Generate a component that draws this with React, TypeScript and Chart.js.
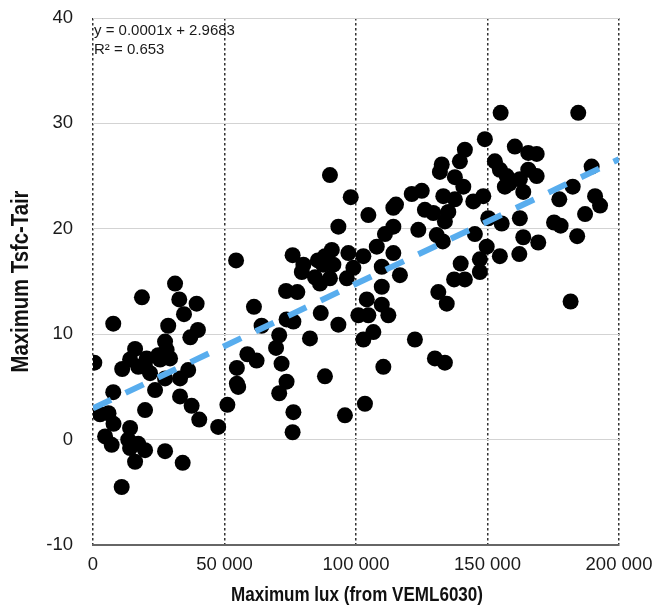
import { useEffect, useRef } from "react";
import { Chart, registerables } from "chart.js";

Chart.register(...registerables);

// Scatter data: maximum lux (x) and maximum Tsfc-Tair (y)
const luxValues = [
  500, 2700, 5900, 7700, 7700, 7800, 4600, 7100, 10900, 11100,
  14100, 16000, 13400, 14100, 14100, 16000, 17200, 18600, 19800, 20400,
  19800, 19800, 21700, 23600, 24800, 25500, 27400, 28000, 28600, 29300,
  27400, 27400, 31200, 32800, 33100, 33100, 34100, 34600, 36200, 37000,
  37500, 39400, 39900, 40400, 47600, 51100, 54400, 54700, 54700, 55200,
  58700, 62200, 61200, 64100, 17200,
  70800, 69600, 71700, 73600, 70800, 76200, 75900, 73400, 77700, 75900,
  80000, 79400, 73600, 76200, 82500, 86600, 88200, 90100, 93300, 98000,
  104700, 90800, 88200, 91400, 87500, 90100, 86300, 97100, 102800, 99000,
  96500, 93300, 100900, 104700, 104100, 109800, 112300, 106600, 102800, 110400,
  103400, 95800, 107900, 111000, 114200, 114200, 109800, 116700, 109800, 115200,
  114200, 121200, 125000, 126200, 129400, 123700, 130700, 122400, 130000, 133800,
  131300, 85500, 84400,
  155000, 149000, 160400, 165500, 168700, 141400, 139500, 132600, 131900, 152800,
  154700, 157300, 165500, 162300, 137600, 140800, 156600, 163600, 133200, 137600,
  144600, 148400, 135100, 133800, 150300, 155400, 162300, 133000, 145200, 149700,
  154700, 163600, 169300, 162100, 139800, 147100, 147100, 137300, 141400, 134500,
  184500, 168700, 189600, 182400, 177300, 190900, 192800, 187100, 175300, 177800,
  184100, 181600, 158300,
];
const tsfcValues = [
  7.3, 2.4, 2.5, 4.5, 11.0, 1.5, 0.3, -0.5, -4.5, 6.7,
  7.6, 8.6, 0.0, 1.1, -0.8, -2.1, -0.4, 13.5, 6.9, 7.7,
  2.8, -1.0, 6.3, 4.7, 8.0, 7.6, 9.3, 8.5, 10.8, 7.7,
  5.8, -1.1, 14.8, 13.3, 5.8, 4.1, -2.2, 11.9, 6.6, 9.7,
  3.2, 12.9, 10.4, 1.9, 1.2, 3.3, 17.0, 6.8, 5.3, 5.0,
  8.1, 7.5, 12.6, 10.8, 6.9,
  9.9, 8.7, 7.2, 5.5, 4.4, 2.6, 0.7, 14.1, 14.0, 17.5,
  16.6, 15.9, 11.4, 11.2, 9.6, 12.0, 6.0, 25.1, 20.2, 23.0,
  21.3, 18.0, 17.4, 16.6, 16.6, 15.3, 14.8, 17.7, 17.4, 16.3,
  15.3, 10.9, 11.8, 11.8, 13.3, 12.8, 11.8, 10.2, 9.5, 6.9,
  3.4, 2.3, 18.3, 19.5, 20.2, 17.7, 16.4, 15.6, 14.5, 22.3,
  22.0, 23.3, 23.6, 21.8, 21.5, 19.9, 19.4, 9.5, 7.7, 7.3,
  14.0, 17.0, 15.4,
  31.0, 28.5, 27.8, 27.2, 27.1, 27.5, 26.4, 26.1, 25.4, 26.4,
  25.6, 25.0, 25.6, 24.7, 24.9, 24.0, 24.0, 23.5, 23.1, 22.8,
  22.6, 23.1, 21.6, 20.7, 21.0, 20.5, 21.0, 18.8, 19.5, 18.3,
  17.4, 19.2, 18.7, 17.6, 16.7, 17.1, 15.9, 15.2, 15.2, 12.9,
  31.0, 25.0, 25.9, 24.0, 22.8, 23.1, 22.2, 21.4, 20.6, 20.3,
  19.3, 13.1, 24.3,
];

// Linear trend line end points
const trendLux = [0, 200000];
const trendTsfc = [2.9683, 26.6];

const xMin = 0;
const xMax = 200000;
const xStep = 50000;
const yMin = -10;
const yMax = 40;
const yStep = 10;

const equationText = "y = 0.0001x + 2.9683";
const r2Text = "R\u00B2 = 0.653";
const xTitle = "Maximum lux (from VEML6030)";
const yTitle = "Maximum Tsfc-Tair";

const baseFont = '"Liberation Sans", Arial, Helvetica, sans-serif';

const formatThousands = (v: number) =>
  String(v).replace(/\B(?=(\d{3})+(?!\d))/g, " ");

// Draws a bold, horizontally condensed title (the reference uses a condensed face)
function drawCondensed(
  ctx: CanvasRenderingContext2D,
  text: string,
  cx: number,
  cy: number,
  size: number,
  targetLen: number,
  rotate: boolean
) {
  ctx.save();
  ctx.font = `bold ${size}px ${baseFont}`;
  ctx.fillStyle = "#111111";
  ctx.textAlign = "center";
  ctx.textBaseline = "middle";
  const w = ctx.measureText(text).width;
  const s = targetLen / w;
  ctx.translate(cx, cy);
  if (rotate) ctx.rotate(-Math.PI / 2);
  ctx.scale(s, 1);
  ctx.fillText(text, 0, 0);
  ctx.restore();
}

const annotationPlugin = {
  id: "annotations",
  afterDraw(chart: any) {
    const { ctx, chartArea } = chart;
    ctx.save();
    ctx.font = `15px ${baseFont}`;
    ctx.fillStyle = "#1a1a1a";
    ctx.textBaseline = "alphabetic";
    ctx.textAlign = "left";
    ctx.fillText(equationText, chartArea.left + 1, chartArea.top + 17);
    ctx.fillText(r2Text, chartArea.left + 1, chartArea.top + 35.5);
    ctx.restore();

    const cx = (chartArea.left + chartArea.right) / 2 + 1;
    drawCondensed(ctx, xTitle, cx, 595, 20, 252, false);
    const cy = (chartArea.top + chartArea.bottom) / 2;
    drawCondensed(ctx, yTitle, 21, cy, 24, 182, true);
  },
};

export default function App() {
  const canvasRef = useRef<HTMLCanvasElement | null>(null);

  useEffect(() => {
    if (!canvasRef.current) return;
    const points = luxValues.map((x, i) => ({ x, y: tsfcValues[i] }));
    const trend = trendLux.map((x, i) => ({ x, y: trendTsfc[i] }));

    const chart = new Chart(canvasRef.current, {
      type: "scatter",
      data: {
        datasets: [
          {
            type: "line",
            data: trend,
            borderColor: "#58adee",
            borderWidth: 6,
            borderDash: [20, 16],
            borderCapStyle: "butt",
            pointRadius: 0,
            fill: false,
          } as any,
          {
            data: points,
            backgroundColor: "#000000",
            borderColor: "#000000",
            borderWidth: 0,
            pointRadius: 8,
            pointHoverRadius: 8,
          },
        ],
      },
      options: {
        animation: false,
        responsive: true,
        maintainAspectRatio: false,
        layout: { padding: { top: 18, right: 33, left: 0, bottom: 0 } },
        plugins: {
          legend: { display: false },
          tooltip: { enabled: false },
        },
        scales: {
          x: {
            type: "linear",
            min: xMin,
            max: xMax,
            afterFit: (scale: any) => {
              scale.height = 63;
              scale.paddingLeft = 0;
              scale.paddingRight = 0;
              scale.paddingTop = 0;
              scale.paddingBottom = 0;
            },
            ticks: {
              stepSize: xStep,
              padding: 9,
              color: "#1a1a1a",
              font: { family: baseFont, size: 18.5 },
              callback: (v: any) => formatThousands(Number(v)),
              maxRotation: 0,
            },
            grid: {
              color: "#333333",
              lineWidth: 1.5,
              drawTicks: false,
            },
            border: {
              display: true,
              color: "#666666",
              width: 2,
              dash: [2.5, 2.5],
            },
            title: { display: false },
          },
          y: {
            type: "linear",
            min: yMin,
            max: yMax,
            afterFit: (scale: any) => {
              scale.width = 93;
              scale.paddingLeft = 0;
              scale.paddingRight = 0;
              scale.paddingTop = 0;
              scale.paddingBottom = 0;
            },
            ticks: {
              stepSize: yStep,
              padding: 20,
              color: "#1a1a1a",
              font: { family: baseFont, size: 18.5 },
            },
            grid: {
              color: "#d3d3d3",
              lineWidth: 1,
              drawTicks: false,
            },
            border: { display: false },
            title: { display: false },
          },
        },
      },
      plugins: [annotationPlugin],
    });
    return () => chart.destroy();
  }, []);

  return (
    <div
      style={{
        position: "fixed",
        left: 0,
        top: 0,
        width: 652,
        height: 608,
        background: "#ffffff",
      }}
    >
      <canvas ref={canvasRef} />
    </div>
  );
}
